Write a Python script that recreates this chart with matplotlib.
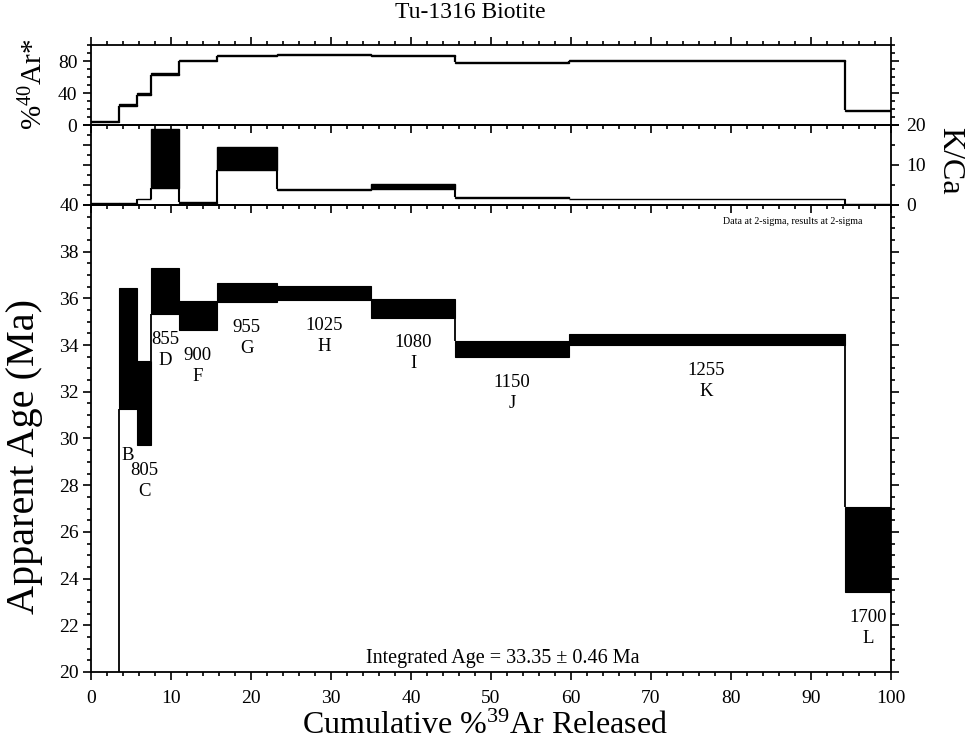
import numpy as np
import matplotlib.pyplot as plt
from matplotlib.ticker import MultipleLocator

plt.rcParams['font.family'] = ['Liberation Serif', 'DejaVu Serif']
plt.rcParams['mathtext.fontset'] = 'custom'
plt.rcParams['mathtext.rm'] = 'Liberation Serif'
plt.rcParams['mathtext.it'] = 'Liberation Serif:italic'
plt.rcParams['axes.linewidth'] = 1.3

# ------------------------------------------------------------
# Step-heating data (2-sigma errors)
# ------------------------------------------------------------
sample = 'Tu-1316 Biotite'
step_ids = ['A', 'B', 'C', 'D', 'F', 'G', 'H', 'I', 'J', 'K', 'L']
temps = ['', '', '805', '855', '900', '955', '1025', '1080', '1150', '1255', '1700']

# cumulative %39Ar at step boundaries
cum_39ar = [0.0, 3.5, 5.8, 7.5, 11.0, 15.7, 23.2, 35.0, 45.5, 59.7, 94.2, 100.0]

age_ma = [14.0, 33.84, 31.52, 36.30, 35.25, 36.24, 36.23, 35.57, 33.83, 34.23, 25.23]
age_err = [4.0, 2.59, 1.81, 0.99, 0.62, 0.41, 0.31, 0.39, 0.36, 0.24, 1.82]

pct_40ar = [4.0, 25.2, 38.7, 63.7, 80.8, 86.5, 88.0, 86.5, 78.0, 81.0, 17.7]
pct_40ar_err = [0.8, 1.3, 1.3, 1.3, 0.5, 0.5, 0.5, 0.5, 0.5, 0.5, 0.5]

k_ca = [0.45, 0.3, 1.5, 11.6, 0.55, 11.6, 3.9, 4.6, 1.9, 1.5, 0.2]
k_ca_err = [0.1, 0.08, 0.08, 7.3, 0.08, 2.9, 0.08, 0.6, 0.08, 0.08, 0.08]

integrated_age = 33.35
integrated_err = 0.46


def draw_steps(ax, edges, vals, errs, box_lw=0.8, link_lw=1.2):
    """Filled error boxes for each step plus vertical links between them."""
    edges = np.asarray(edges)
    vals = np.asarray(vals)
    errs = np.asarray(errs)
    lo = vals - errs
    hi = vals + errs
    ax.bar(edges[:-1], hi - lo, bottom=lo, width=np.diff(edges), align='edge',
           color='black', edgecolor='black', linewidth=box_lw)
    for i in range(1, len(vals)):
        ax.vlines(edges[i], max(lo[i - 1], lo[i]), min(hi[i - 1], hi[i]),
                  color='black', linewidth=link_lw)
    return lo, hi


def style_ticks(ax):
    ax.tick_params(which='both', direction='out', width=1.2, colors='black')
    ax.tick_params(which='major', length=5.8)
    ax.tick_params(which='minor', length=3.0)


fig = plt.figure(figsize=(9.69, 7.5), dpi=100)

ax_age = fig.add_axes([0.0939, 0.104, 0.8256, 0.6227], facecolor='none')
ax_kca = fig.add_axes([0.0939, 0.7267, 0.8256, 0.1067], facecolor='none')
ax_ar = fig.add_axes([0.0939, 0.8333, 0.8256, 0.1067], facecolor='none')

# --- Age spectrum ---
lo, hi = draw_steps(ax_age, cum_39ar, age_ma, age_err, box_lw=0.8, link_lw=1.3)
ax_age.set_xlim(0, 100)
ax_age.set_ylim(20, 40)
ax_age.xaxis.set_major_locator(MultipleLocator(10))
ax_age.xaxis.set_minor_locator(MultipleLocator(2))
ax_age.yaxis.set_major_locator(MultipleLocator(2))
ax_age.yaxis.set_minor_locator(MultipleLocator(0.5))
style_ticks(ax_age)
ax_age.tick_params(which='both', right=True, labelright=False, top=False)
ax_age.tick_params(axis='x', labelsize=14, pad=7)
ax_age.tick_params(axis='y', labelsize=14, pad=3)

centers = 0.5 * (np.array(cum_39ar[:-1]) + np.array(cum_39ar[1:]))
for x, bottom, top, t, s in zip(centers, lo, hi, temps, step_ids):
    if top < 20:
        continue
    ax_age.annotate(f'{t}\n{s}', xy=(x, bottom), xytext=(0, -12),
                    textcoords='offset points', ha='center', va='top',
                    fontsize=13.5, linespacing=1.3)

ax_age.text(0.515, 0.008, f'Integrated Age = {integrated_age:.2f} ± {integrated_err:.2f} Ma',
            transform=ax_age.transAxes, ha='center', va='bottom', fontsize=14.5)
ax_age.text(0.965, 0.975, 'Data at 2-sigma, results at 2-sigma',
            transform=ax_age.transAxes, ha='right', va='top', fontsize=7.2)

# --- K/Ca ---
draw_steps(ax_kca, cum_39ar, k_ca, k_ca_err, box_lw=1.0, link_lw=1.5)
ax_kca.set_xlim(0, 100)
ax_kca.set_ylim(0, 20)
ax_kca.xaxis.set_major_locator(MultipleLocator(10))
ax_kca.xaxis.set_minor_locator(MultipleLocator(2))
ax_kca.yaxis.set_major_locator(MultipleLocator(5))
ax_kca.yaxis.set_minor_locator(MultipleLocator(2.5))
style_ticks(ax_kca)
ax_kca.tick_params(which='both', labelbottom=False, labelleft=False,
                   top=False, right=False)

ax_kca_r = ax_kca.twinx()
ax_kca_r.set_ylim(0, 20)
ax_kca_r.yaxis.set_major_locator(MultipleLocator(10))
ax_kca_r.yaxis.set_minor_locator(MultipleLocator(5))
style_ticks(ax_kca_r)
ax_kca_r.tick_params(axis='y', labelsize=14, pad=5)
for sp in ax_kca_r.spines.values():
    sp.set_visible(False)

# --- %40Ar* ---
draw_steps(ax_ar, cum_39ar, pct_40ar, pct_40ar_err, box_lw=1.0, link_lw=1.6)
ax_ar.set_xlim(0, 100)
ax_ar.set_ylim(0, 100)
ax_ar.xaxis.set_major_locator(MultipleLocator(10))
ax_ar.xaxis.set_minor_locator(MultipleLocator(2))
ax_ar.yaxis.set_major_locator(MultipleLocator(40))
ax_ar.yaxis.set_minor_locator(MultipleLocator(10))
style_ticks(ax_ar)
ax_ar.tick_params(which='both', top=True, right=True, labelbottom=False,
                  labelright=False)
ax_ar.tick_params(axis='y', labelsize=14, pad=4)

# --- axis titles ---
fig.text(470 / 969, 1 - 12 / 750, sample, ha='center', va='center', fontsize=17)
fig.text(485 / 969, 1 - 726 / 750, r'Cumulative %$^{39}$Ar Released',
         ha='center', va='center', fontsize=23)
fig.text(25 / 969, 1 - 456 / 750, 'Apparent Age (Ma)', rotation=90,
         ha='center', va='center', fontsize=29)
fig.text(34 / 969, 1 - 84 / 750, r'%$^{40}$Ar*', rotation=90,
         ha='center', va='center', fontsize=21)
fig.text(950 / 969, 1 - 161 / 750, 'K/Ca', rotation=270,
         ha='center', va='center', fontsize=23)

fig.savefig('out.png', dpi=100)
